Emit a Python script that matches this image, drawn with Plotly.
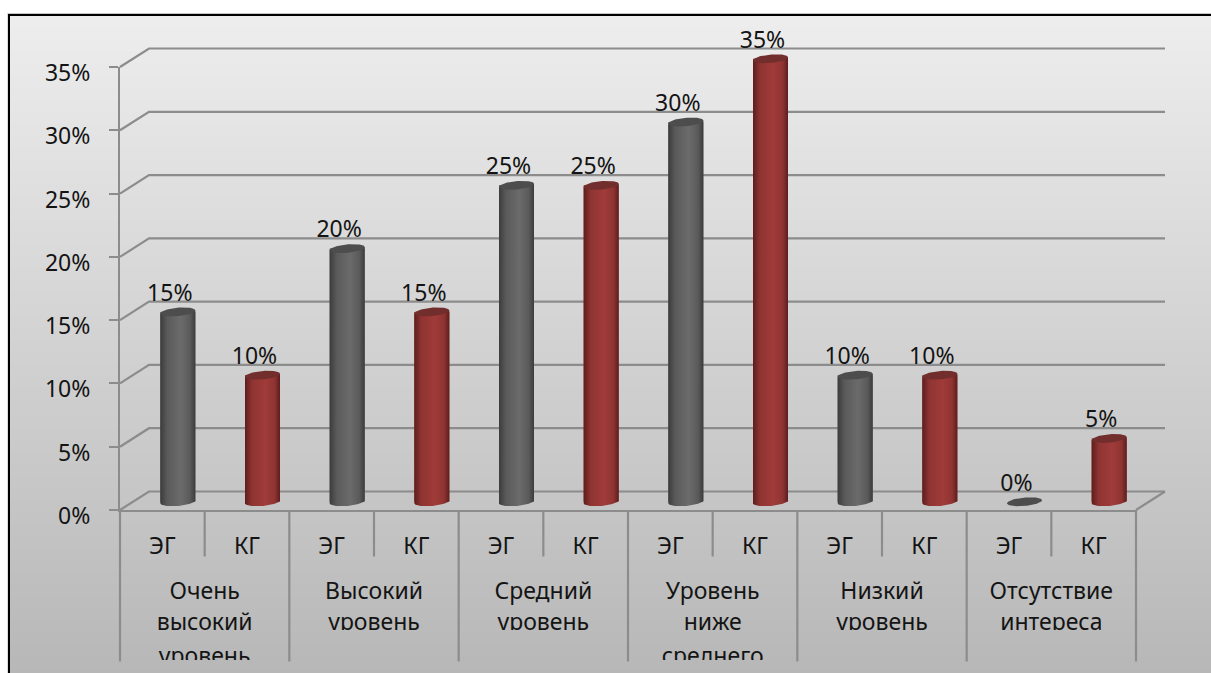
import numpy as np
import plotly.graph_objects as go

# ---- data ----
groups = [["Очень", "высокий", "уровень"], ["Высокий", "уровень"], ["Средний", "уровень"],
          ["Уровень", "ниже", "среднего"], ["Низкий", "уровень"], ["Отсутствие", "интереса"]]
series_names = ["ЭГ", "КГ"]
eg_values = [15, 20, 25, 30, 10, 0]
kg_values = [10, 15, 25, 35, 10, 5]
y_ticks = [0, 5, 10, 15, 20, 25, 30, 35]
y_tick_labels = ["0%", "5%", "10%", "15%", "20%", "25%", "30%", "35%"]

# ---- geometry of the page ----
W, H = 1211, 673
X0, X1, Y0, Y35 = 120, 1136, 510, 67
PX = (X1 - X0) / 12          # pixels per category slot
PY = (Y0 - Y35) / 35         # pixels per percent
DX, DY = 29 / PX, 18.5 / PY  # depth of the pseudo-3D box, in data units
px_x = lambda p: (p - X0) / PX
px_y = lambda p: (Y0 - p) / PY
xr = [px_x(0), px_x(W)]
GRID = "#8c8c8c"
FONT = "Noto Sans, Open Sans, sans-serif"
INK = "#141414"
FS = 23

fig = go.Figure()

# ---- walls: gridlines, floor, separators (lowest subplot) ----
gx, gy = [], []
for t in y_ticks:
    gx += [0, DX, 12 + DX, None]
    gy += [t, t + DY, t + DY, None]
gx += [12, 12 + DX, None]
gy += [0, DY, None]
fig.add_trace(go.Scatter(x=gx, y=gy, mode="lines", line=dict(color=GRID, width=2.2),
                         hoverinfo="skip", showlegend=False, xaxis="x", yaxis="y"))
sx, sy = [], []
for i in range(13):
    sx += [i, i, None]
    sy += [0, px_y(661.5) if i % 2 == 0 else px_y(556.5), None]
fig.add_trace(go.Scatter(x=sx, y=sy, mode="lines", line=dict(color=GRID, width=2.2),
                         hoverinfo="skip", showlegend=False, xaxis="x", yaxis="y"))

# ---- cylinders ----
R = 17.5 / PX
RY = 4.2 / PY
TILT = 1.5 / PY
BAR_SHIFT_X = 1.0 / PX
BAR_SHIFT_Y = 1.0 / PY
styles = {
    "ЭГ": dict(edge="#3c3c3c", mid="#6b6b6b", cap="#4d4d4d", base="#5a5a5a"),
    "КГ": dict(edge="#5c1e1d", mid="#a03b39", cap="#722e2d", base="#8f3432"),
}
centers = {"ЭГ": [2 * i + 0.5 + DX / 2 + BAR_SHIFT_X for i in range(6)],
           "КГ": [2 * i + 1.5 + DX / 2 + BAR_SHIFT_X for i in range(6)]}
values = {"ЭГ": eg_values, "КГ": kg_values}
LIFT = DY / 2 - BAR_SHIFT_Y

t_front = np.linspace(0, np.pi, 40)
t_all = np.linspace(0, 2 * np.pi, 80)
for name in series_names:
    st = styles[name]
    fig.add_trace(go.Bar(x=centers[name], y=values[name], base=LIFT, width=2 * R,
                         marker=dict(color=st["base"], line=dict(width=0)), name=name,
                         showlegend=False, xaxis="x2", yaxis="y2"))
    for cx, v in zip(centers[name], values[name]):
        ytop = v + LIFT
        ybot = LIFT
        lower_x = cx + R * np.cos(t_front)
        lower_y = ybot - RY * np.sin(t_front) + TILT * np.cos(t_front)
        upper_x = [cx - R, cx + R]
        upper_y = [ytop - TILT, ytop + TILT]
        poly_x = list(lower_x) + upper_x + [lower_x[0]]
        poly_y = list(lower_y) + upper_y + [lower_y[0]]
        if v > 0:
            fig.add_trace(go.Scatter(
                x=poly_x, y=poly_y, mode="lines", fill="toself", line=dict(width=0),
                fillgradient=dict(type="horizontal",
                                  colorscale=[[0, st["edge"]], [0.2, st["base"]], [0.58, st["mid"]],
                                              [0.85, st["base"]], [1, st["edge"]]]),
                hoverinfo="skip", showlegend=False, xaxis="x2", yaxis="y2"))
        cap_x = cx + R * np.cos(t_all)
        cap_y = ytop + RY * np.sin(t_all) + TILT * np.cos(t_all)
        fig.add_trace(go.Scatter(x=cap_x, y=cap_y, mode="lines", fill="toself", line=dict(width=0),
                                 fillcolor=st["cap"], hoverinfo="skip", showlegend=False,
                                 xaxis="x2", yaxis="y2"))

# ---- value labels ----
lab_x, lab_y, lab_t = [], [], []
for name in series_names:
    for cx, v in zip(centers[name], values[name]):
        lab_x.append(cx - 8 / PX)
        lab_y.append(v + LIFT + 17 / PY)
        lab_t.append(f"{v}%")
fig.add_trace(go.Scatter(x=lab_x, y=lab_y, text=lab_t, mode="text", textposition="middle center",
                         textfont=dict(family=FONT, size=FS, color=INK), cliponaxis=False,
                         hoverinfo="skip", showlegend=False, xaxis="x2", yaxis="y2"))

# ---- group labels, clipped like the reference's cut-off cells ----
row_px = [593, 624, 658]
tx, ty, tt = [], [], []
rx, ry, rt = [], [], []
for i, lines in enumerate(groups):
    cx = 2 * i + 1
    for r, s in enumerate(lines):
        if r < 2:
            tx.append(cx); ty.append(px_y(row_px[r])); tt.append(s)
        else:
            rx.append(cx); ry.append(px_y(row_px[r])); rt.append(s)
fig.add_trace(go.Scatter(x=tx, y=ty, text=tt, mode="text", textposition="middle center",
                         textfont=dict(family=FONT, size=FS, color=INK), cliponaxis=True,
                         hoverinfo="skip", showlegend=False, xaxis="x2", yaxis="y4"))
fig.add_trace(go.Scatter(x=rx, y=ry, text=rt, mode="text", textposition="middle center",
                         textfont=dict(family=FONT, size=FS, color=INK), cliponaxis=True,
                         hoverinfo="skip", showlegend=False, xaxis="x2", yaxis="y5"))

# anchor for the visible axes
fig.add_trace(go.Scatter(x=[0], y=[0], mode="markers", marker=dict(opacity=0, size=1),
                         hoverinfo="skip", showlegend=False, xaxis="x3", yaxis="y3"))

# ---- page background: vertical grey gradient below a black frame ----
shapes = []
top_c, bot_c = 237, 183
step = 6
for p in range(15, H, step):
    f = (p - 15) / (H - 15)
    c = round(top_c + (bot_c - top_c) * f)
    shapes.append(dict(type="rect", xref="paper", yref="paper", x0=9 / W, x1=1,
                       y0=1 - min(p + step + 1, H) / H, y1=1 - p / H,
                       fillcolor=f"rgb({c},{c},{c})", line=dict(width=0), layer="below"))
shapes.append(dict(type="rect", xref="paper", yref="paper", x0=7 / W, x1=1, y0=1 - 14 / H, y1=1 - 13 / H,
                   fillcolor="#c4c4c4", line=dict(width=0), layer="below"))
shapes.append(dict(type="rect", xref="paper", yref="paper", x0=7 / W, x1=8 / W, y0=0, y1=1 - 13 / H,
                   fillcolor="#dcdcdc", line=dict(width=0), layer="below"))
shapes.append(dict(type="rect", xref="paper", yref="paper", x0=8 / W, x1=1, y0=1 - 16 / H, y1=1 - 14 / H,
                   fillcolor="#000000", line=dict(width=0), layer="below"))
shapes.append(dict(type="rect", xref="paper", yref="paper", x0=8 / W, x1=10 / W, y0=0, y1=1 - 14 / H,
                   fillcolor="#000000", line=dict(width=0), layer="below"))

hidden = dict(visible=False, fixedrange=True)
fig.update_layout(
    width=W, height=H, autosize=False,
    margin=dict(l=0, r=0, t=0, b=0, pad=0, autoexpand=False),
    paper_bgcolor="white", plot_bgcolor="rgba(0,0,0,0)",
    showlegend=False, shapes=shapes, barmode="overlay",
    font=dict(family=FONT, size=FS, color=INK),
    xaxis=dict(range=xr, domain=[0, 1], anchor="y", **hidden),
    yaxis=dict(range=[px_y(H), px_y(0)], domain=[0, 1], anchor="x", **hidden),
    xaxis2=dict(range=xr, domain=[0, 1], anchor="y2", **hidden),
    yaxis2=dict(range=[px_y(H), px_y(0)], domain=[0, 1], anchor="x2", **hidden),
    yaxis4=dict(range=[px_y(630), px_y(0)], domain=[(H - 630) / H, 1], anchor="x2", **hidden),
    yaxis5=dict(range=[px_y(660), px_y(0)], domain=[(H - 660) / H, 1], anchor="x2", **hidden),
    xaxis3=dict(range=[0, 12], domain=[X0 / W, X1 / W], anchor="y3", showgrid=False, zeroline=False,
                showline=True, linecolor=GRID, linewidth=2, ticks="", automargin=False,
                tickvals=[i + 0.5 for i in range(12)], ticktext=series_names * 6,
                tickfont=dict(family=FONT, size=FS, color=INK), ticklabelstandoff=14, fixedrange=True),
    yaxis3=dict(range=[0, 35], domain=[(H - Y0) / H, (H - Y35) / H], anchor="x3", showgrid=False,
                zeroline=False, showline=True, linecolor=GRID, linewidth=2, ticks="outside", automargin=False,
                ticklen=9, tickwidth=2, tickcolor=GRID, tickvals=y_ticks, ticktext=y_tick_labels,
                tickfont=dict(family=FONT, size=FS, color=INK), ticklabelstandoff=14,
                ticklabelshift=6, fixedrange=True),
)
fig.write_html("out.html", config=dict(displayModeBar=False),
               post_script="document.body.style.margin='0';")
